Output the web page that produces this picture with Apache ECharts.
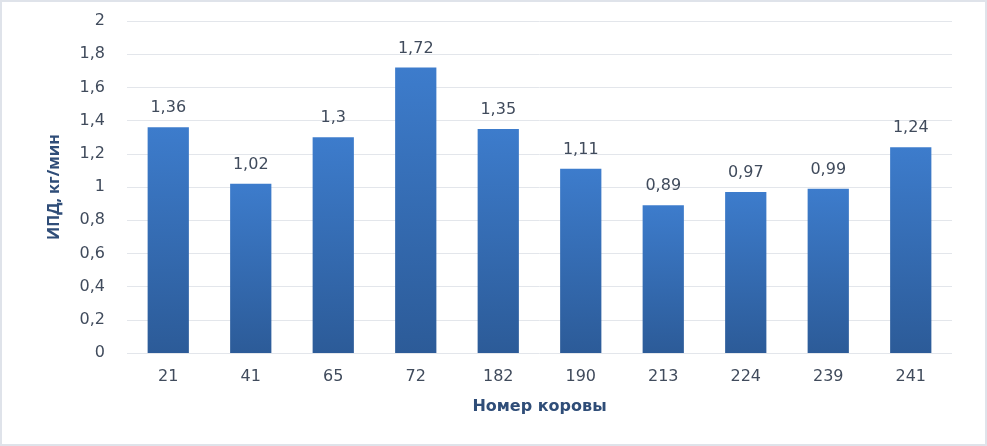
<!DOCTYPE html>
<html>
<head>
<meta charset="utf-8">
<script src="https://cdn.jsdelivr.net/npm/echarts@6/dist/echarts.min.js"></script>
<style>
  html, body { margin: 0; padding: 0; background: #fff; }
  #main { width: 987px; height: 446px; box-sizing: border-box; border: 2px solid #dfe3ea; }
</style>
</head>
<body>
<div id="main"></div>
<script>
// Cow numbers and milk flow rate values
var cows = ["21", "41", "65", "72", "182", "190", "213", "224", "239", "241"];
var ipd = [1.36, 1.02, 1.3, 1.72, 1.35, 1.11, 0.89, 0.97, 0.99, 1.24];
var yTicks = [0, 0.2, 0.4, 0.6, 0.8, 1, 1.2, 1.4, 1.6, 1.8, 2];

function comma(v){
    return String(v).replace('.', ',');
}

var textColor = "#404b5c";
var titleColor = "#2f4d78";
var numFont = "'DejaVu Sans', sans-serif";

var chart = echarts.init(document.getElementById("main"));

chart.setOption({
    animation: false,
    grid: { left: 125, right: 33, top: 19, bottom: 91 },
    xAxis: {
        type: "category",
        data: cows,
        axisLine: { show: false },
        axisTick: { show: false },
        axisLabel: { color: textColor, fontSize: 16, fontFamily: numFont, margin: 16 },
        name: "Номер коровы",
        nameLocation: "middle",
        nameGap: 46,
        nameTextStyle: { color: titleColor, fontSize: 16, fontWeight: "bold", fontFamily: numFont }
    },
    yAxis: {
        type: "value",
        min: yTicks[0],
        max: yTicks[yTicks.length - 1],
        interval: 0.2,
        axisLine: { show: false },
        axisTick: { show: false },
        splitLine: { lineStyle: { color: "#e3e6eb", width: 1 } },
        axisLabel: {
            color: textColor, fontSize: 16, fontFamily: numFont, margin: 22,
            formatter: function (v) { return comma(Math.round(v * 10) / 10); }
        },
        name: "ИПД, кг/мин",
        nameLocation: "middle",
        nameGap: 65,
        nameTextStyle: { color: titleColor, fontSize: 16, fontWeight: "bold", fontFamily: "'Open Sans', sans-serif" }
    },
    series: [{
        type: "bar",
        data: ipd,
        barWidth: "50%",
        itemStyle: {
            color: new echarts.graphic.LinearGradient(0, 0, 0, 1, [
                { offset: 0, color: "#3d7ccc" },
                { offset: 1, color: "#2c5b98" }
            ])
        },
        label: {
            show: true,
            position: "top",
            distance: 11,
            color: textColor,
            fontSize: 16,
            fontFamily: numFont,
            formatter: function (p) { return comma(p.value); }
        }
    }]
});
</script>
</body>
</html>
